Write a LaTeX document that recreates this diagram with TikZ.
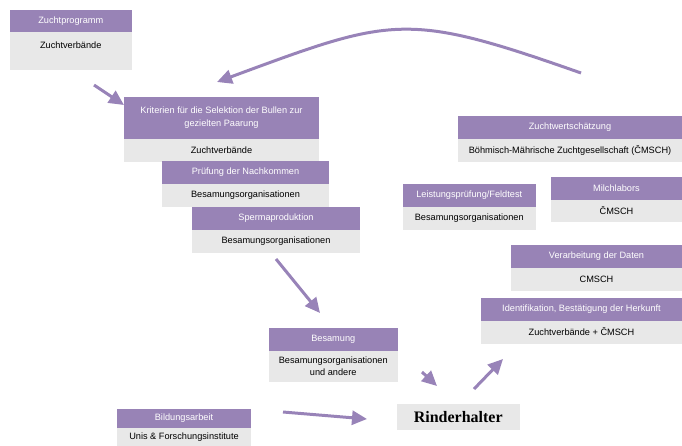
\documentclass[tikz,border=0pt]{standalone}
\usepackage{fontspec}
\usetikzlibrary{arrows.meta}
\newfontfamily\labelfont{Liberation Sans}
\newfontfamily\titlefont{Liberation Serif}
\definecolor{headpurple}{RGB}{152,131,182}
\definecolor{bodygray}{RGB}{232,232,232}
\definecolor{flowpurple}{RGB}{152,131,184}

\tikzset{
  boxbase/.style={inner sep=0pt, outer sep=0pt, align=center, anchor=north west},
  headbox/.style={boxbase, fill=headpurple, text=white,
    font=\labelfont\fontsize{9.2}{13}\selectfont},
  bodybox/.style={boxbase, fill=bodygray, text=black,
    font=\labelfont\fontsize{9.2}{11.5}\selectfont},
  flow/.style={draw=flowpurple, line width=3pt,
    -{Triangle[length=15pt,width=14pt]}},
}

% stage box: name, x, y, width, header height, body height, header text, body text
\newcommand\stagebox[8]{%
  \node[headbox, minimum width=#4pt, minimum height=#5pt] (#1h) at (#2,#3) {#7};
  \node[bodybox, minimum width=#4pt, minimum height=#6pt] (#1b) at (#1h.south west) {#8};
}

\begin{document}
\begin{tikzpicture}[x=1pt,y=-1pt]
  \useasboundingbox (0,0) rectangle (682,445);

  \stagebox{prog}{10}{10}{121.5}{22}{37.5}{Zuchtprogramm}{Zuchtverbände\\\phantom{X}}
  \stagebox{krit}{124}{97}{195}{42}{22.5}{Kriterien für die Selektion der Bullen zur\\gezielten Paarung}{Zuchtverbände}
  \stagebox{pruef}{162}{161}{167}{23}{23}{Prüfung der Nachkommen}{Besamungsorganisationen}
  \stagebox{sperma}{192}{207}{168}{23}{22.5}{Spermaproduktion}{Besamungsorganisationen}
  \stagebox{zws}{458}{116}{224}{23}{22.5}{Zuchtwertschätzung}{Böhmisch-Mährische Zuchtgesellschaft (ČMSCH)}
  \stagebox{leist}{403}{184}{132.5}{22.5}{23}{Leistungsprüfung/Feldtest}{Besamungsorganisationen}
  \stagebox{milch}{551}{177}{131}{22.5}{22.5}{Milchlabors}{ČMSCH}
  \stagebox{verarb}{511}{245}{171}{22.5}{23}{Verarbeitung der Daten}{CMSCH}
  \stagebox{ident}{481}{297.5}{201}{23}{23}{Identifikation, Bestätigung der Herkunft}{Zuchtverbände + ČMSCH}
  \stagebox{besam}{269}{328}{128.5}{22.5}{31}{Besamung}{Besamungsorganisationen\\und andere}
  \stagebox{bild}{117}{409}{134}{19}{19}{Bildungsarbeit}{Unis \& Forschungsinstitute}

  \node[boxbase, fill=bodygray, minimum width=122.5pt, minimum height=26pt,
        font=\titlefont\bfseries\fontsize{16}{18}\selectfont] (rind) at (397,404) {Rinderhalter};

  % free ends of the flow arrows
  \coordinate (a1s) at (94,85);   \coordinate (a1e) at (124,105);
  \coordinate (a2s) at (581,73);  \coordinate (a2e) at (217,82);
  \coordinate (a3s) at (276,259); \coordinate (a3e) at (320,313);
  \coordinate (a4s) at (422,372); \coordinate (a4e) at (437,386);
  \coordinate (a5s) at (474,389); \coordinate (a5e) at (503,359);
  \coordinate (a6s) at (283,412); \coordinate (a6e) at (367,419);

  \draw[flow] (a1s) -- (a1e);
  \draw[flow] (a2s) .. controls (405,11) and (393,17) .. (a2e);
  \draw[flow] (a3s) -- (a3e);
  \draw[flow] (a4s) -- (a4e);
  \draw[flow] (a5s) -- (a5e);
  \draw[flow] (a6s) -- (a6e);
\end{tikzpicture}
\end{document}
